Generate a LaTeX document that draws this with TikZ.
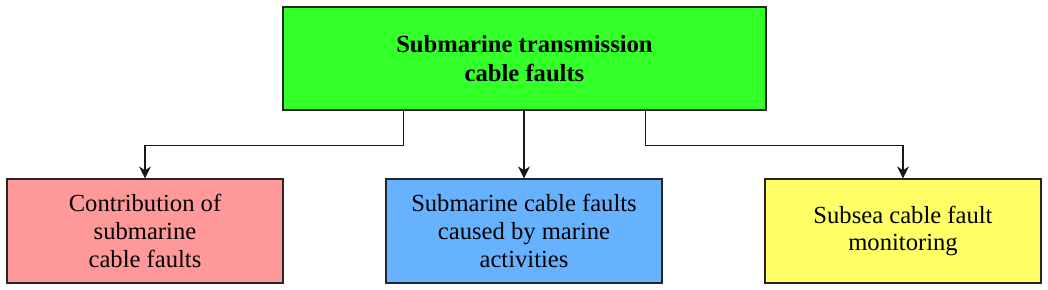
\documentclass[tikz,border=0pt]{standalone}
\usepackage{fontspec}
\setmainfont{Liberation Serif}
\usepackage{tikz}
\usetikzlibrary{positioning,calc,arrows.meta}

\definecolor{topgreen}{RGB}{51,255,41}
\definecolor{faultpink}{RGB}{255,153,153}
\definecolor{marineblue}{RGB}{102,178,255}
\definecolor{monyellow}{RGB}{255,255,102}

\begin{document}
\begin{tikzpicture}[
    x=0.025cm, y=-0.025cm,
    box/.style={rectangle, draw=black!85, line width=0.9pt, align=center,
                minimum width=6.9cm, minimum height=2.6cm, inner sep=0pt,
                font=\fontsize{17.5}{19.6}\selectfont},
    arrow/.style={-{Stealth[length=8.5pt,width=8.5pt]}, line width=0.8pt, black!90}
]
\useasboundingbox (0,0) rectangle (1048,290);

% Top node
\node[box, fill=topgreen, minimum width=12.07cm, minimum height=2.57cm,
      font=\fontsize{17.5}{21}\selectfont\bfseries] (top) at (524.5,58.5)
      {Submarine transmission\\cable faults};

% Bottom row
\node[box, fill=faultpink] (contrib) at (145,231)
      {Contribution of\\submarine\\cable faults};
\node[box, fill=marineblue] (marine) at (524,231)
      {Submarine cable faults\\caused by marine\\activities};
\node[box, fill=monyellow] (monitor) at (903,231)
      {Subsea cable fault\\monitoring};

% Arrows
\draw[arrow] ($(top.south)+(-121,0)$) -- ++(0,35) -| (contrib.north);
\draw[arrow] (top.south -| marine.north) -- (marine.north);
\draw[arrow] ($(top.south)+(121,0)$) -- ++(0,35) -| (monitor.north);

\end{tikzpicture}
\end{document}
